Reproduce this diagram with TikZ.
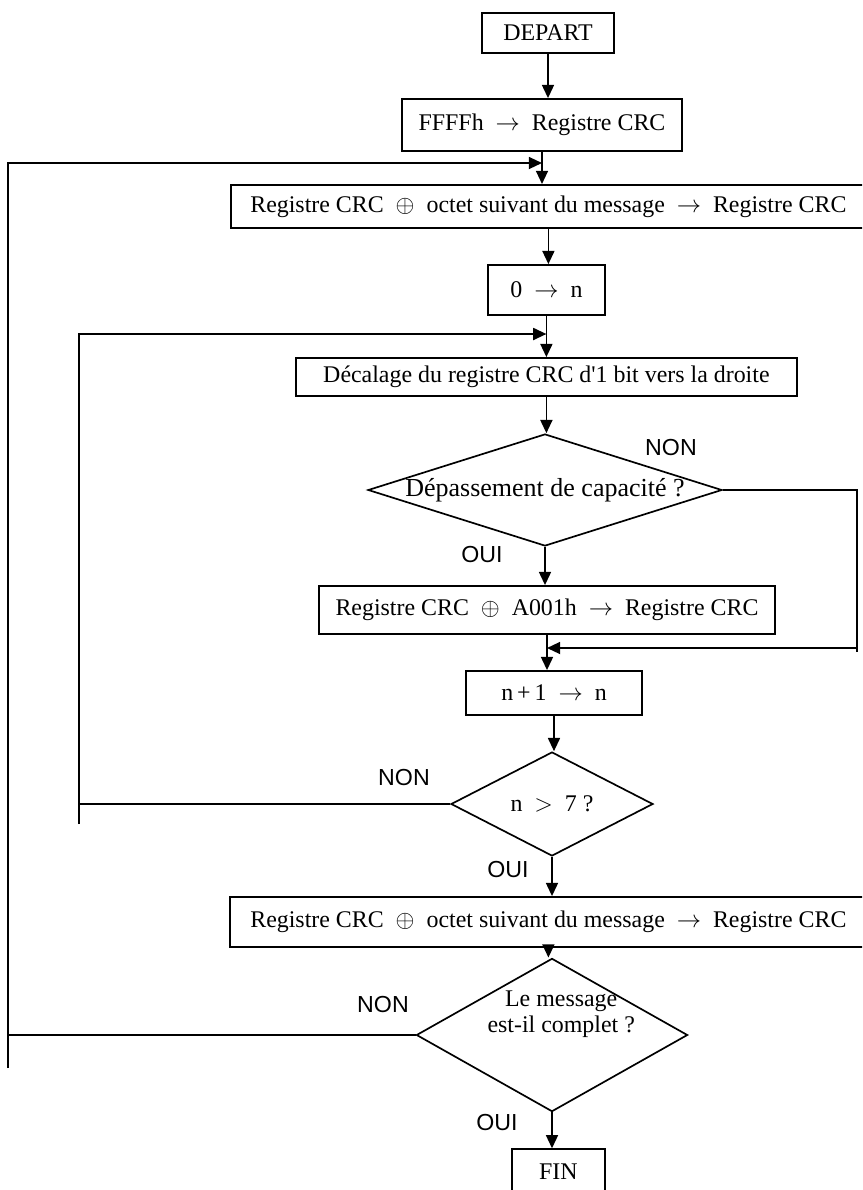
\documentclass[tikz,border=0pt]{standalone}
\usepackage{fontspec}
\setmainfont{Liberation Serif}
\newfontfamily\arialfont{Liberation Sans}
\usepackage{tikz}
\usetikzlibrary{shapes.geometric, arrows.meta}

\tikzset{
  box/.style={draw, line width=1.3pt, inner sep=0pt, font=\fontsize{17}{20}\selectfont},
  test/.style={draw, diamond, line width=1.2pt, inner sep=0pt, font=\fontsize{17}{20}\selectfont},
  fleche/.style={-{Triangle[length=3.3mm, width=3mm]}, line width=1.2pt},
  lien/.style={line width=1.3pt},
  reponse/.style={font=\arialfont\fontsize{16.5}{19}\selectfont},
}

\begin{document}
\begin{tikzpicture}
  \useasboundingbox (0,0) rectangle (21.55,-29.75);
  \clip (0,0) rectangle (21.55,-29.75);

  % Initialisation
  \node[box, minimum width=3.3cm, minimum height=1cm] (depart) at (13.7,-0.825) {DEPART};
  \node[box, minimum width=7cm, minimum height=1.3cm] (init) at (13.55,-3.125) {FFFFh~ $\rightarrow$ ~Registre CRC};
  \node[box, minimum width=15.85cm, minimum height=1.075cm] (xor1) at (13.71,-5.16) {Registre CRC~ $\oplus$ ~octet suivant du message~ $\rightarrow$ ~Registre CRC};
  \node[box, minimum width=2.93cm, minimum height=1.25cm] (zero) at (13.66,-7.25) {0~ $\rightarrow$ ~n};

  % Boucle sur les 8 bits
  \node[box, minimum width=12.53cm, minimum height=0.95cm] (decal) at (13.66,-9.425) {Décalage du registre CRC d\textquotesingle1 bit vers la droite};
  \node[test, minimum width=8.85cm, minimum height=2.8cm] (capa) at (13.625,-12.25) {\makebox[0pt]{\fontsize{18.5}{22}\selectfont Dépassement de capacité ?}};
  \node[box, minimum width=11.38cm, minimum height=1.2cm] (xorpoly) at (13.675,-15.25) {Registre CRC~ $\oplus$ ~A001h~ $\rightarrow$ ~Registre CRC};
  \node[box, minimum width=4.4cm, minimum height=1.1cm] (incr) at (13.85,-17.325) {n\,+\,1~ $\rightarrow$ ~n};
  \node[test, minimum width=5.05cm, minimum height=2.6cm] (fin8) at (13.8,-20.1) {\makebox[0pt]{n ~$>$~ 7 ?}};

  % Octet suivant
  \node[box, minimum width=15.9cm, minimum height=1.25cm] (xor2) at (13.71,-23.05) {Registre CRC~ $\oplus$ ~octet suivant du message~ $\rightarrow$ ~Registre CRC};
  \node[test, minimum width=6.78cm, minimum height=3.83cm] (complet) at (13.8,-25.875) {};
  \node[align=center, font=\fontsize{17}{20}\selectfont] (completTxt) at (14.03,-25.35) {Le message\\[-0.05cm]est-il complet ?};
  \node[box, minimum width=2.33cm, minimum height=1.1cm] (fin) at (13.96,-29.28) {FIN};

  % Fleches
  \draw[fleche] (depart) -- (depart |- init.north);
  \draw[fleche] (init) -- (init |- xor1.north);
  \draw[fleche] (xor1) -- (xor1 |- zero.north);
  \draw[fleche] (zero) -- (zero |- decal.north);
  \draw[fleche] (decal) -- (decal |- capa.north);
  \draw[fleche] (capa) -- (capa |- xorpoly.north);
  \draw[fleche] (xorpoly) -- (xorpoly |- incr.north);
  \draw[fleche] (incr) -- (incr |- fin8.north);
  \draw[fleche] (fin8) -- (fin8 |- xor2.north);
  \draw[fleche] (xor2) -- (xor2 |- complet.north);
  \draw[fleche] (complet) -- (complet |- fin.north);

  % Retours
  \coordinate (boucleMsg) at (0.2,-4.075);
  \coordinate (boucleMsgBas) at (0.2,-26.7);
  \coordinate (boucleBit) at (1.965,-8.35);
  \coordinate (boucleBitBas) at (1.965,-20.6);
  \coordinate (sautHaut) at (21.425,-12.325);
  \coordinate (sautBas) at (21.425,-16.3);
  \coordinate (retour) at (21.425,-16.2);

  \draw[lien] (complet.west) -- (complet.west -| boucleMsg);
  \draw[fleche, line width=1.3pt] (boucleMsgBas) -- (boucleMsg) -- (init |- boucleMsg);
  \draw[lien] (fin8.west) -- (fin8.west -| boucleBit);
  \draw[fleche, line width=1.3pt] (boucleBitBas) -- (boucleBit) -- (zero |- boucleBit);
  \draw[lien] (capa.east) -- (capa.east -| sautHaut) -- (sautBas);
  \draw[fleche, line width=1.3pt] (retour) -- (xorpoly |- retour);

  % Reponses
  \node[reponse] (non1) at (16.775,-11.2) {NON};
  \node[reponse] (oui1) at (12.05,-13.875) {OUI};
  \node[reponse] (non2) at (10.1,-19.45) {NON};
  \node[reponse] (oui2) at (12.7,-21.75) {OUI};
  \node[reponse] (non3) at (9.575,-25.125) {NON};
  \node[reponse] (oui3) at (12.425,-28.075) {OUI};
\end{tikzpicture}
\end{document}
